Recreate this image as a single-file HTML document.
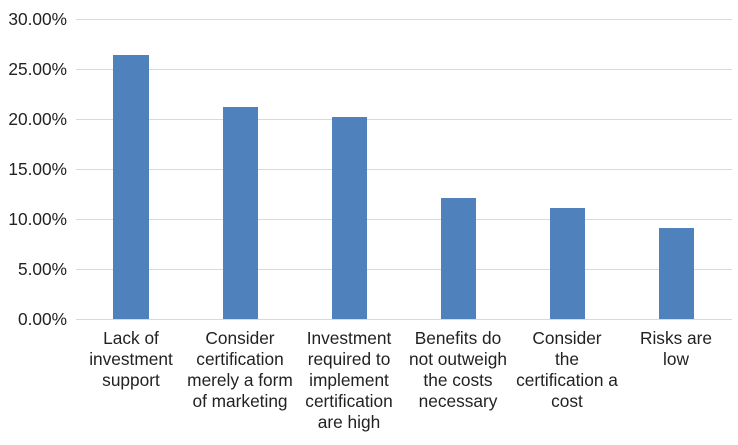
<!DOCTYPE html>
<html><head><style>
body{margin:0;background:#fff;}
svg text{font-family:"Liberation Sans",Arial,sans-serif;font-size:17.3px;fill:#222;}
</style></head><body>
<svg width="738" height="440" xmlns="http://www.w3.org/2000/svg">
<g stroke="#d9d9d9" stroke-width="1">
<line x1="76" x2="732" y1="19.5" y2="19.5"/>
<line x1="76" x2="732" y1="69.5" y2="69.5"/>
<line x1="76" x2="732" y1="119.5" y2="119.5"/>
<line x1="76" x2="732" y1="169.5" y2="169.5"/>
<line x1="76" x2="732" y1="219.5" y2="219.5"/>
<line x1="76" x2="732" y1="269.5" y2="269.5"/>
<line x1="76" x2="732" y1="319.5" y2="319.5"/>
</g>
<g text-anchor="end">
<text x="67" y="25">30.00%</text>
<text x="67" y="75">25.00%</text>
<text x="67" y="125">20.00%</text>
<text x="67" y="175">15.00%</text>
<text x="67" y="225">10.00%</text>
<text x="67" y="275">5.00%</text>
<text x="67" y="325">0.00%</text>
</g>
<g fill="#4f81bd">
<rect x="113" y="55" width="36" height="264"/>
<rect x="223" y="107" width="35" height="212"/>
<rect x="332" y="117" width="35" height="202"/>
<rect x="441" y="198" width="35" height="121"/>
<rect x="550" y="208" width="35" height="111"/>
<rect x="659" y="228" width="35" height="91"/>
</g>
<g text-anchor="middle">
<text x="131" y="344">Lack of</text><text x="131" y="365">investment</text><text x="131" y="386">support</text>
<text x="240" y="344">Consider</text><text x="240" y="365">certification</text><text x="240" y="386">merely a form</text><text x="240" y="407">of marketing</text>
<text x="349" y="344">Investment</text><text x="349" y="365">required to</text><text x="349" y="386">implement</text><text x="349" y="407">certification</text><text x="349" y="428">are high</text>
<text x="458" y="344">Benefits do</text><text x="458" y="365">not outweigh</text><text x="458" y="386">the costs</text><text x="458" y="407">necessary</text>
<text x="567" y="344">Consider</text><text x="567" y="365">the</text><text x="567" y="386">certification a</text><text x="567" y="407">cost</text>
<text x="676" y="344">Risks are</text><text x="676" y="365">low</text>
</g>
</svg>
</body></html>
